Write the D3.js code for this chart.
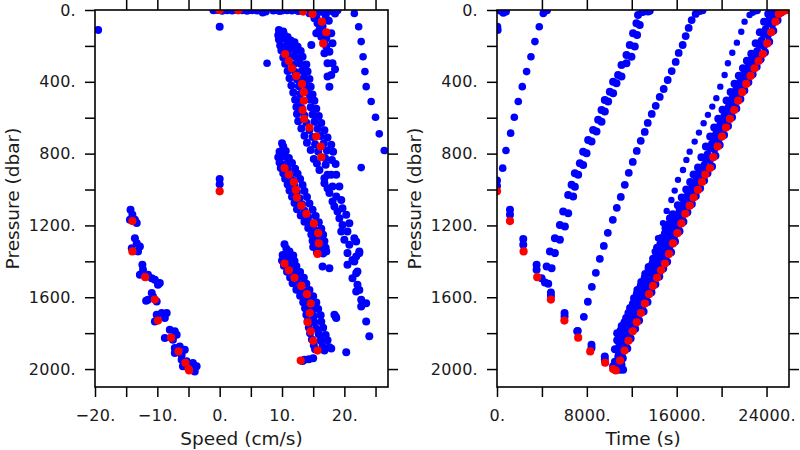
<!DOCTYPE html>
<html><head><meta charset="utf-8">
<script src="https://cdn.jsdelivr.net/npm/d3@7"></script>
<style>body{margin:0;background:#fff}svg{display:block}</style>
</head><body>
<svg id="c" width="800" height="450"></svg>
<script>
// ---------- axis ticks ----------
const pressureTicks = [0,200,400,600,800,1000,1200,1400,1600,1800,2000];
const pressureLabels = [0,400,800,1200,1600,2000];
const speedTicks = [-20,-15,-10,-5,0,5,10,15,20,25];
const speedLabels = [-20,-10,0,10,20];
const timeTicks = [0,4000,8000,12000,16000,20000,24000];
const timeLabels = [0,8000,16000,24000];

// ---------- red (subsampled) profile: time (s), pressure (dbar), speed (cm/s) ----------
const redTime = [0,1156,2370,3585,4800,6000,7230,8300,9630,10340,10578,
  10963,11360,11704,12089,12444,12815,13170,13541,13896,14252,14607,14963,
  15318,15674,16059,16415,16770,17156,17511,17896,18252,18548,18963,
  19259,19644,20030,20385,20741,21126,21481,21837,22193,22578,22933,23289,23674,
  24059,24415,24800,25100,25400,25650,25800];
const redPressure = [1010,1176,1345,1488,1613,1730,1825,1902,1965,2000,2008,
  1953,1897,1843,1790,1740,1688,1635,1583,1537,1492,1450,1412,
  1359,1300,1243,1189,1135,1090,1045,1002,958,917,880,
  820,761,705,655,607,557,505,458,412,367,325,284,245,
  186,124,65,22,9,2,0];
const redSpeed = [0,-14.0,-14.0,-11.95,-10.4,-9.9,-7.8,-6.6,-5.5,-5.0,-4.9,
  13.0,15.7,15.0,14.6,14.1,14.45,14.6,14.0,13.1,12.0,11.1,10.4,
  15.7,15.9,15.8,15.1,13.9,13.1,12.4,12.2,11.9,11.1,10.4,
  16.3,16.2,15.5,14.4,13.55,13.3,13.5,13.5,13.2,12.3,11.6,11.1,10.5,
  16.6,17.1,16.4,14.9,13.4,3.0,0];

// ---------- blue (all samples), left panel: [speed, pressure] ----------
const blueSpeedSurface = [[-1.0,2],[-0.3,0],[0.4,4],[1.2,1],[2.0,3],[2.8,0],[3.6,2],[4.4,4],[5.2,1],[6.0,3],
  [6.9,14],[7.4,8],[8.6,3],[9.3,0],[10.0,3],[10.8,1],[11.6,3],[12.4,0],[13.1,2],[14.0,1],[15.6,3],[16.4,0],
  [17.1,8],[17.9,6],[18.4,3],[18.9,1],[14.8,6],[12.6,5],[9.6,6],[-19.5,111],[0,93]];
const blueSpeedDescent = [[-14.3,1113],[-14.0,1141],[-13.6,1169],[-14.4,1169],[-13.3,1187],
  [-13.6,1271],[-13.3,1299],[-12.8,1317],[-14.1,1327],[-13.1,1345],
  [-12.4,1419],[-12.3,1447],[-12.8,1475],[-11.5,1475],[-10.9,1494],[-10.4,1503],[-9.6,1521],[-9.9,1531],
  [-10.9,1577],[-11.5,1614],[-10.7,1596],[-10.1,1624],[-11.8,1620],
  [-10.1,1698],[-9.3,1688],[-8.5,1688],[-8.8,1716],[-10.4,1735],
  [-8.0,1781],[-7.2,1790],[-6.9,1809],[-8.8,1827],[-7.5,1837],
  [-7.2,1883],[-6.4,1874],[-5.6,1892],[-7.2,1911],[-6.1,1920],
  [-6.1,1948],[-5.3,1957],[-4.3,1967],[-3.7,1985],[-4.8,2004],[-4.0,2013],[-5.9,1985],
  [0,942],[0,970]];
const blueSpeedTop = [[14.4,18],[15.2,46],[15.7,74],[16.0,111],[15.5,130],[16.3,149],[17.1,158],[17.9,130],
  [18.1,185],[17.1,204],[14.7,195],[17.6,232],[16.8,241],[17.3,297],[18.1,297],[17.9,362],[17.3,371],
  [17.6,427],[15.5,40],[16.5,90],[17.5,60],[18.5,20],[16.8,175],[18.5,330],[16.2,10],[17.0,30]];
const blueSpeedLine = [[21.6,19],[22.3,93],[22.7,176],[23.0,260],[23.3,343],[23.5,427],[24.3,510],
  [25.0,597],[25.6,690],[26.4,783],[22.7,878],[7.6,297]];
const blueSpeedBand1 = [[9.5,112],[10.2,120],[9.4,140],[10.3,135],[10.9,150],
  [9.5,165],[10.4,160],[11.4,170],[12.0,180],[9.7,198],[10.8,195],[11.8,200],[12.5,205],
  [9.9,225],[11.0,222],[12.1,230],[13.0,228],[10.2,265],[11.4,262],[12.4,268],[13.3,260],
  [10.5,300],[11.8,305],[12.9,298],[13.9,304],[10.9,340],[12.1,345],[13.2,338],[14.1,343],
  [11.2,380],[12.4,386],[13.5,378],[14.4,384],[11.5,420],[12.7,425],[13.9,418],[14.6,428],
  [11.8,460],[12.9,468],[14.2,462],[14.9,470],[12.1,500],[13.0,510],[14.4,498],[15.2,505],
  [12.3,540],[13.2,548],[14.6,542],[15.5,550],[12.4,580],[13.6,588],[14.9,582],[15.9,590],
  [12.6,620],[13.9,628],[15.2,622],[16.3,630],[13.1,660],[14.4,668],[15.7,662],[16.8,670],
  [13.6,700],[14.9,708],[16.2,702],[17.3,710],[14.0,740],[15.3,748],[16.7,742],[17.9,750],
  [14.6,780],[15.8,788],[17.2,782],[18.2,790],[15.1,830],[16.9,825],[18.0,835],
  [15.6,855],[17.0,862],[18.6,858]];
const blueSpeedBand2 = [[10.0,742],[10.2,760],[9.6,790],[10.6,785],[9.4,820],[10.3,815],[11.1,825],
  [9.6,850],[10.6,858],[11.6,852],[9.8,880],[10.9,888],[12.1,884],[10.2,910],[11.3,918],[12.5,912],
  [10.5,940],[11.7,948],[12.9,942],[10.9,972],[12.0,980],[13.3,975],[11.2,1005],[12.4,1012],[13.6,1008],
  [11.6,1040],[12.8,1048],[14.0,1042],[12.0,1075],[13.2,1082],[14.4,1078],[12.4,1110],[13.6,1118],[14.9,1112],
  [13.0,1145],[14.2,1152],[15.4,1148],[13.6,1180],[14.7,1188],[15.9,1182],[14.2,1215],[15.2,1222],[16.3,1218],
  [14.7,1250],[15.6,1258],[16.6,1252],[14.9,1285],[16.1,1292],[16.8,1288],[15.0,1320],[16.2,1330],[17.0,1325],
  [15.6,1350],[16.6,1356],[17.1,1345]];
const blueSpeedBand3 = [[10.4,1305],[10.7,1330],[11.2,1345],[10.1,1365],[11.0,1372],[11.8,1368],
  [10.0,1395],[11.0,1402],[12.0,1398],[10.3,1425],[11.3,1432],[12.3,1428],[10.8,1458],[11.9,1465],[12.9,1460],
  [11.3,1490],[12.4,1498],[13.5,1492],[11.7,1522],[12.9,1530],[13.9,1525],[12.3,1558],[13.4,1565],[14.4,1560],
  [12.9,1592],[14.0,1600],[15.0,1595],[13.4,1628],[14.5,1635],[15.5,1630],[13.7,1662],[14.9,1670],[15.8,1665],
  [13.9,1698],[15.1,1706],[16.2,1700],[14.1,1732],[15.2,1740],[16.3,1736],[14.3,1768],[15.5,1776],[16.6,1770],
  [14.5,1800],[15.9,1806],[17.0,1810],[14.8,1835],[16.2,1842],[17.3,1840],[15.1,1868],[16.5,1875],[17.6,1878],
  [15.3,1890],[16.8,1896],[17.9,1885],[13.6,1948],[14.3,1945],[15.0,1940],[13.3,1955]];
const blueSpeedScatter = [[16.0,891],[16.8,937],[17.3,918],[17.9,918],[18.7,918],[16.8,965],[17.3,993],
  [18.1,983],[19.2,983],[17.6,1020],[18.7,1039],[18.1,1067],[19.5,1058],[18.4,1095],[19.7,1104],[18.9,1123],
  [19.2,1160],[20.3,1141],[19.7,1197],[20.8,1188],[19.5,1234],[20.5,1234],[21.6,1271],[20.0,1280],
  [20.8,1308],[21.9,1290],[22.4,1345],[20.5,1354],[21.9,1373],[22.4,1354],[21.6,1401],[21.3,1392],
  [20.5,1419],[21.9,1466],[22.1,1457],[21.3,1494],[22.1,1531],[21.9,1568],[22.4,1559],[22.7,1614],
  [23.5,1633],[22.7,1651],[23.5,1735],[24.0,1818],[20.3,1907],[16.5,1429],[17.6,1438],[18.4,1698],
  [18.7,1716],[18.6,1707]];

// ---------- blue (all samples), right panel: [time, pressure] ----------
const blueTimeSurface = [[300,4],[563,15],[800,9],[4250,6],[4450,2],[13600,4],[13300,1],[18000,3],
  [18300,1],[22900,4],[23150,1],[25300,3],[25600,1],[30,93],[60,111],[0,950],[0,980]];
const blueTimeLineA = [[507,881],[800,783],[1215,686],[1541,597],[1896,510],[2252,427],[2637,343],
  [3022,260],[3378,176],[3763,93],[4119,19]];
const blueTimeDescent = [[1156,1113],[1156,1141],[2340,1276],[2340,1308],[3526,1419],[3526,1447],
  [3970,1494],[4267,1518],[4563,1525],[4800,1573],[4800,1592],[6015,1688],[6015,1707],[7140,1790],
  [8415,1865],[8415,1883],[9600,1930],[9600,1948],[10338,1985],[10640,1994],[10933,2004],[11227,2004],
  [11084,1976],[10782,1957]];
const blueTimeLineB = [[4418,1429],[4862,1438],[4711,1345],[5156,1354],[5156,1271],[5600,1280],
  [5600,1197],[6044,1206],[5893,1123],[6338,1132],[6338,1030],[6782,1039],[6640,974],[6933,984],
  [6933,909],[7227,918],[7378,853],[7671,863],[7671,789],[7973,798],[8116,724],[8418,733],
  [8560,668],[8862,677],[9004,612],[9307,622],[9307,557],[9600,566],[9600,501],[9893,510],
  [10044,455],[10338,464],[10338,399],[10640,408],[10782,362],[11084,371],[11084,306],[11529,297],
  [11529,250],[11973,260],[11822,195],[12267,204],[12116,130],[12471,139],[12418,74],[12711,83],
  [12560,28],[12978,11],[13449,9],[13156,0]];
const blueTimeLineC = [[18044,6],[17689,22],[17333,56],[17067,100],[16800,145],[16533,195],[16178,239],
  [15911,289],[15556,340],[15200,390],[14844,440],[14489,484],[14133,534],[13778,579],[13422,629],
  [13156,679],[12800,729],[12444,785],[12089,846],[11733,907],[11378,974],[11022,1041],[10667,1102],
  [10311,1169],[9867,1241],[9511,1314],[9156,1386],[8800,1464],[8444,1542],[8089,1625],[7733,1709],[7200,1787]];
const blueTimeLineD = [[22756,15],[22489,28],[22044,65],[21751,121],[21360,182],[20951,238],[20560,297],
  [20267,362],[19884,427],[19529,491],[19173,538],[18782,584],[18400,631],[17982,683],[17600,733],
  [17156,789],[16862,835],[16560,891],[16116,946],[15822,1006],[15529,1058],[15111,1119],[14782,1187],
  [14338,1271],[14044,1345],[13751,1419]];
const blueTimeBand = [
  [10700,1975],[10500,1960],[11200,1940],[10800,1930],
  [11100,1915],[10800,1900],[10500,1890],[11600,1885],[10900,1870],
  [11400,1860],[11050,1850],[10700,1840],[11900,1830],[11200,1820],
  [11800,1805],[11400,1795],[11000,1785],[12300,1775],[11600,1770],[10700,1800],
  [12150,1755],[11750,1745],[11350,1740],[12650,1730],[11950,1720],[11100,1760],
  [12500,1705],[12100,1695],[11700,1688],[13050,1680],[12300,1672],[11500,1715],
  [12900,1652],[12500,1642],[12100,1636],[13400,1626],[12700,1620],[11850,1660],
  [13250,1600],[12850,1590],[12450,1582],[13750,1572],[13050,1565],[12200,1605],
  [13600,1552],[13200,1545],[12800,1536],[14100,1528],[13400,1520],[12500,1560],
  [13950,1508],[13550,1500],[13150,1492],[14450,1484],[13750,1476],[12850,1515],
  [14300,1464],[13900,1456],[13500,1447],[14800,1440],[14100,1432],[13200,1470],
  [14650,1425],[14250,1418],[13850,1410],[15150,1402],[14450,1395],[13500,1432],
  [15000,1375],[14600,1368],[14200,1360],[15500,1350],[14800,1343],[13900,1385],
  [15350,1318],[14950,1310],[14550,1302],[15850,1290],[15150,1285],[14250,1325],
  [15750,1262],[15350,1253],[14950,1245],[16250,1233],[15550,1228],[14650,1270],
  [16100,1208],[15700,1200],[15300,1192],[16600,1180],[15900,1175],[15000,1215],
  [16450,1153],[16050,1145],[15650,1138],[16950,1126],[16250,1120],[15400,1160],
  [16850,1104],[16450,1096],[16100,1088],[17350,1080],[16650,1073],
  [17200,1060],[16800,1052],[16450,1045],[17700,1036],[17000,1030],
  [17600,1016],[17200,1008],[16850,1000],[18080,993],[17400,987],
  [17950,973],[17550,966],[17200,958],[18440,950],[17750,944],
  [18250,932],[17850,925],[17500,917],[18740,910],[18050,903],
  [18650,893],[18250,886],[17900,878],[19150,872],[18450,866],
  [18950,835],[18550,828],[18200,820],[19450,812],[18750,805],
  [19350,776],[18950,769],[18600,761],[19830,752],[19150,745],
  [19720,720],[19320,712],[18980,704],[20220,696],[19520,690],
  [20080,670],[19680,662],[19340,654],[20570,646],[19880,640],
  [20440,621],[20040,614],[19700,606],[20930,598],[20240,592],
  [20820,572],[20420,564],[20080,556],[21310,548],[20620,542],
  [21180,520],[20780,512],[20440,504],[21670,496],[20980,490],
  [21530,472],[21130,465],[20800,457],[22020,449],[21330,443],
  [21890,426],[21490,419],[21150,411],[22380,403],[21690,397],
  [22270,381],[21870,374],[21530,366],[22760,358],[22070,352],
  [22630,339],[22230,332],[21900,324],[23120,316],[22430,310],
  [22990,298],[22590,291],[22250,283],[23470,275],[22790,269],
  [23370,259],[22970,252],[22640,244],[23860,236],[23170,230],
  [23760,200],[23360,193],[23030,185],[24240,177],[23560,171],
  [24110,140],[23720,132],[23400,124],[24600,115],[23920,108],
  [24500,80],[24100,73],[23780,65],[24980,57],[24300,50],
  [24820,36],[24450,30],[24150,22],[25300,14],[24650,12],
  [25000,5],[25500,3],[25200,0],[24800,2]];

// ---------- drawing ----------
const svg = d3.select('#c');
const yTop = 10, yBottom = 387;
const y = d3.scaleLinear().domain([0, 2100]).range([yTop, yBottom]);
const xSpeed = d3.scaleLinear().domain([-20, 27]).range([95, 388]);
const xTime = d3.scaleLinear().domain([0, 26000]).range([497, 789]);
const FONT = "'DejaVu Sans', sans-serif";
const fmt = v => (v < 0 ? '\u2212' + Math.abs(v) : String(v)) + '.';

function drawPanel(id, x, xTicks, xLabels, blueSets, redX, title) {
  const [x0, x1] = x.range();
  const g = svg.append('g');
  svg.append('clipPath').attr('id', 'clip' + id)
    .append('rect').attr('x', x0).attr('y', yTop).attr('width', x1 - x0).attr('height', yBottom - yTop);
  const plot = g.append('g').attr('clip-path', `url(#clip${id})`);
  blueSets.forEach(([arr, r]) => {
    plot.append('g').selectAll('circle').data(arr).join('circle')
      .attr('cx', d => x(d[0])).attr('cy', d => y(d[1])).attr('r', r).attr('fill', '#0000ff');
  });
  plot.append('g').selectAll('circle').data(redPressure.map((p, i) => [redX[i], p])).join('circle')
    .attr('cx', d => x(d[0])).attr('cy', d => y(d[1])).attr('r', 4.1).attr('fill', '#ff0000');

  const style = sel => {
    sel.select('.domain').remove();
    sel.selectAll('line').attr('stroke', '#000').attr('stroke-width', 1.5);
    sel.selectAll('text').attr('font-family', FONT).attr('font-size', 16).attr('fill', '#1a1a1a')
      .attr('letter-spacing', 0.3);
  };
  g.append('g').attr('transform', `translate(${x0},0)`)
    .call(d3.axisLeft(y).tickValues(pressureTicks).tickSize(10).tickPadding(9)
      .tickFormat(d => pressureLabels.includes(d) ? fmt(d) : '')).call(style);
  g.append('g').attr('transform', `translate(${x1},0)`)
    .call(d3.axisRight(y).tickValues(pressureTicks.filter(d => d > 0)).tickSize(10).tickFormat('')).call(style);
  g.append('g').attr('transform', `translate(0,${yBottom})`)
    .call(d3.axisBottom(x).tickValues(xTicks).tickSize(10).tickPadding(13)
      .tickFormat(d => xLabels.includes(d) ? fmt(d) : '')).call(style);
  g.append('g').attr('transform', `translate(0,${yTop})`)
    .call(d3.axisTop(x).tickValues(xTicks.filter(d => x(d) > x0 + 1)).tickSize(10).tickFormat('')).call(style);
  g.append('rect').attr('x', x0).attr('y', yTop).attr('width', x1 - x0).attr('height', yBottom - yTop)
    .attr('fill', 'none').attr('stroke', '#000').attr('stroke-width', 1.6);

  g.append('text').attr('x', (x0 + x1) / 2).attr('y', 445).attr('text-anchor', 'middle')
    .attr('font-family', FONT).attr('font-size', 18.5).attr('fill', '#1a1a1a').text(title);
  g.append('text').attr('transform', `translate(${x0 - 83},${(yTop + yBottom) / 2}) rotate(-90)`)
    .attr('text-anchor', 'middle').attr('dominant-baseline', 'central')
    .attr('font-family', FONT).attr('font-size', 18.5).attr('fill', '#1a1a1a').text('Pressure (dbar)');
}

drawPanel('L', xSpeed, speedTicks, speedLabels,
  [[blueSpeedSurface, 4.0], [blueSpeedDescent, 4.0], [blueSpeedTop, 4.0], [blueSpeedLine, 3.8],
   [blueSpeedBand1, 4.0], [blueSpeedBand2, 4.0], [blueSpeedBand3, 4.0], [blueSpeedScatter, 4.0]],
  redSpeed, 'Speed (cm/s)');
drawPanel('R', xTime, timeTicks, timeLabels,
  [[blueTimeSurface, 4.0], [blueTimeLineA, 3.8], [blueTimeDescent, 4.0], [blueTimeLineB, 4.0],
   [blueTimeLineC, 3.9], [blueTimeLineD, 3.2], [blueTimeBand, 4.0]],
  redTime, 'Time (s)');
</script>
</body></html>
